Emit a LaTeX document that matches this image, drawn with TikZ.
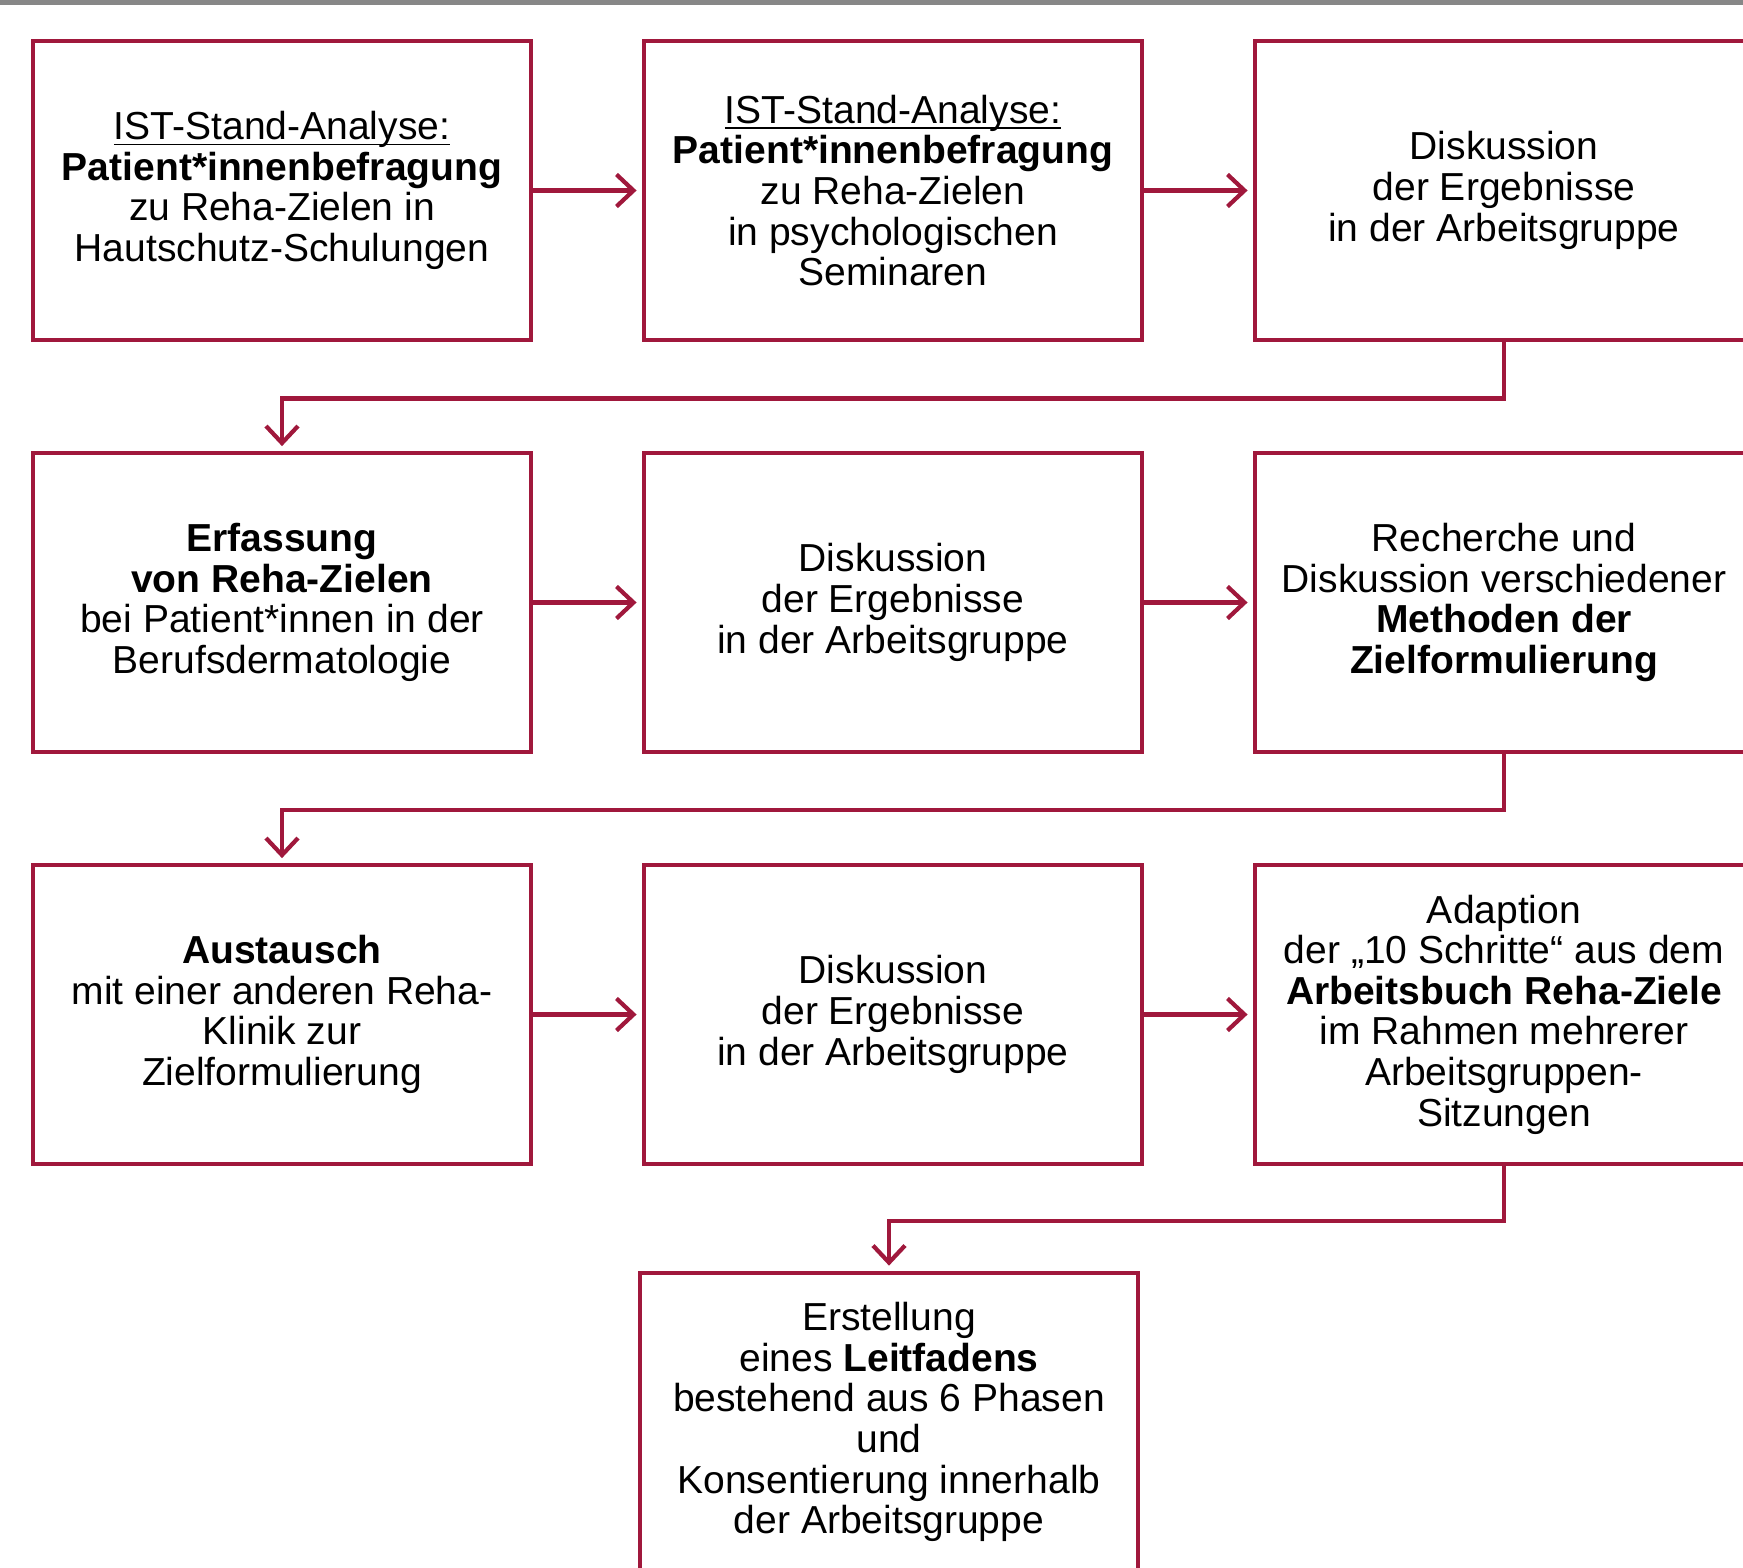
\documentclass[tikz,border=0pt]{standalone}
\usepackage{fontspec}
\setmainfont{Liberation Sans}
\usetikzlibrary{arrows.meta}
\definecolor{rzRed}{HTML}{A0183C}
\definecolor{rzGray}{HTML}{878787}
\newcommand{\rzul}[1]{\underline{\raisebox{0pt}[\height][0pt]{#1}}}
\tikzset{
  rz box/.style={draw=rzRed, line width=1.15pt, minimum width=4.98cm, minimum height=2.98cm, inner sep=0pt, align=center, font=\fontsize{11.1}{11.55}\selectfont},
  rz link/.style={draw=rzRed, line width=1.2pt, shorten >=1.5pt, -{Straight Barb[length=1.7mm,width=3.2mm]}},
  rz rule/.style={fill=rzGray},
}

\begin{document}
\begin{tikzpicture}[x=0.01cm, y=-0.01cm]
  \useasboundingbox (0,0) rectangle (1743,1567);
  \clip (0,0) rectangle (1743,1567);
  \fill[rz rule] (0,0) rectangle (1743,5);
  % ----- Row 1: IST-Stand-Analyse -----
  \node[rz box] (ist1) at (282,190.5) {\rzul{IST-Stand-Analyse:}\\ \textbf{Patient*innenbefragung}\\ zu Reha-Zielen in\\ Hautschutz-Schulungen};
  \node[rz box] (ist2) at (893,190.5) {\rzul{IST-Stand-Analyse:}\\ \textbf{Patient*innenbefragung}\\ zu Reha-Zielen\\ in psychologischen\\ Seminaren};
  \node[rz box] (disk1) at (1504,190.5) {Diskussion\\ der Ergebnisse\\ in der Arbeitsgruppe};
  % ----- Row 2: Erfassung -----
  \node[rz box] (erf) at (282,602.5) {\textbf{Erfassung}\\ \textbf{von Reha-Zielen}\\ bei Patient*innen in der\\ Berufsdermatologie};
  \node[rz box] (disk2) at (893,602.5) {Diskussion\\ der Ergebnisse\\ in der Arbeitsgruppe};
  \node[rz box] (rech) at (1504,602.5) {Recherche und\\ Diskussion verschiedener\\ \textbf{Methoden der}\\ \textbf{Zielformulierung}};
  % ----- Row 3: Austausch -----
  \node[rz box] (aust) at (282,1014.5) {\textbf{Austausch}\\ mit einer anderen Reha-\\ Klinik zur\\ Zielformulierung};
  \node[rz box] (disk3) at (893,1014.5) {Diskussion\\ der Ergebnisse\\ in der Arbeitsgruppe};
  \node[rz box] (adap) at (1504,1014.5) {Adaption\\ der „10 Schritte“ aus dem\\ \textbf{Arbeitsbuch Reha-Ziele}\\ im Rahmen mehrerer\\ Arbeitsgruppen-\\ Sitzungen};
  % ----- Row 4: Leitfaden -----
  \node[rz box] (leit) at (889,1422) {Erstellung\\ eines \textbf{Leitfadens}\\ bestehend aus 6 Phasen\\ und\\ Konsentierung innerhalb\\ der Arbeitsgruppe};
  % ----- Links within rows -----
  \draw[rz link] (ist1) -- (ist2);
  \draw[rz link] (ist2) -- (disk1);
  \draw[rz link] (erf) -- (disk2);
  \draw[rz link] (disk2) -- (rech);
  \draw[rz link] (aust) -- (disk3);
  \draw[rz link] (disk3) -- (adap);
  % ----- Links between rows -----
  \draw[rz link] (disk1.south) -- ++(0,57) -| (erf.north);
  \draw[rz link] (rech.south) -- ++(0,56) -| (aust.north);
  \draw[rz link] (adap.south) -- ++(0,55) -| (leit.north);
\end{tikzpicture}
\end{document}
